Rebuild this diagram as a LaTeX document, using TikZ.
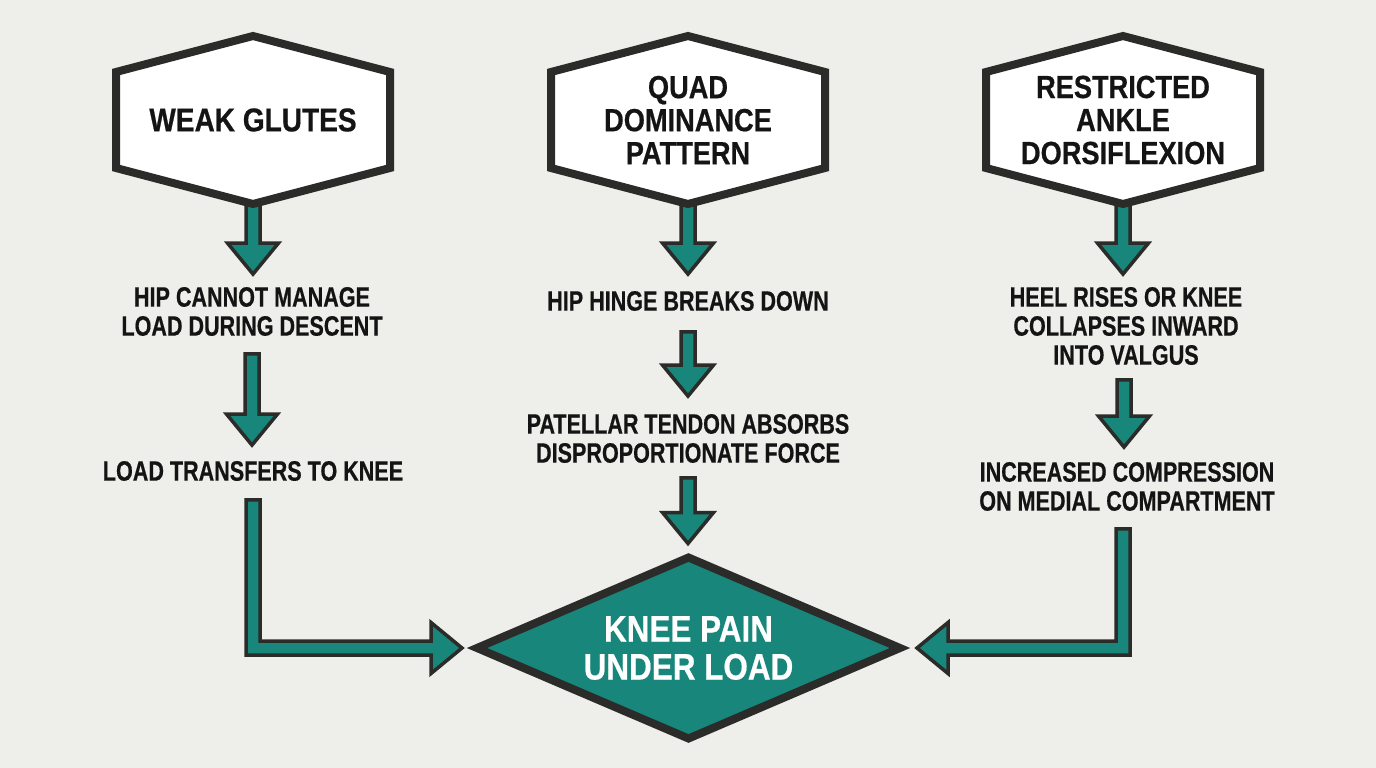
\documentclass[tikz,border=0pt]{standalone}
\usepackage{fontspec}
\setmainfont{Liberation Sans}
\newfontfamily\headfont{Liberation Sans}[FakeStretch=0.85,FakeBold=0.5]
\newfontfamily\bodyfont{Liberation Sans}[FakeStretch=0.77,FakeBold=0.5]
\usetikzlibrary{calc,shapes.geometric}
\definecolor{flowteal}{RGB}{24,134,122}
\definecolor{outl}{HTML}{2B2B29}
\definecolor{bgc}{HTML}{EEEEEA}
\definecolor{ink}{HTML}{141414}
\pgfdeclarelayer{bg}\pgfdeclarelayer{arr}\pgfdeclarelayer{shp}
\pgfsetlayers{bg,arr,shp,main}
\tikzset{
  hexnode/.style={minimum width=274pt, minimum height=96pt, inner sep=0pt, outer sep=0pt,
    align=center, text=ink, font=\headfont\bfseries\fontsize{32pt}{33pt}\selectfont},
  hexshape/.style={draw=outl, fill=white, line width=8pt, line join=miter},
  txt/.style={inner sep=0pt, outer sep=0pt, align=center, text=ink,
    font=\bodyfont\bfseries\fontsize{28pt}{29pt}\selectfont},
  outcome/.style={shape=diamond, aspect=2.34, minimum width=423pt, minimum height=181pt,
    inner sep=0pt, outer sep=0pt, draw=outl, line width=8pt, fill=flowteal, text=white,
    align=center, font=\headfont\bfseries\fontsize{37pt}{38pt}\selectfont},
  blkarrow/.style={draw=outl, fill=flowteal, line width=3.5pt, line join=miter}
}
\newcommand\hexdraw[1]{\begin{pgfonlayer}{shp}\draw[hexshape] (#1.north west) -- ([yshift=36pt]#1.north) -- (#1.north east) -- (#1.south east) -- ([yshift=-36pt]#1.south) -- (#1.south west) -- cycle;\end{pgfonlayer}}
\newcommand\downblk[2]{\begin{pgfonlayer}{arr}\draw[blkarrow] let \p1=(#1), \p2=(#2) in
  (\x1-7pt,\y1) -- (\x1-7pt,\y2+31pt) -- (\x1-25.5pt,\y2+31pt) -- (\x1,\y2) -- (\x1+25.5pt,\y2+31pt) -- (\x1+7pt,\y2+31pt) -- (\x1+7pt,\y1) -- cycle;\end{pgfonlayer}}
\newcommand\elblkR[2]{\begin{pgfonlayer}{arr}\draw[blkarrow] let \p1=(#1), \p2=(#2) in
  (\x1-7pt,\y1) -- (\x1-7pt,\y2-7pt) -- (\x2-31pt,\y2-7pt) -- (\x2-31pt,\y2-25.5pt) -- (\x2,\y2) -- (\x2-31pt,\y2+25.5pt) -- (\x2-31pt,\y2+7pt) -- (\x1+7pt,\y2+7pt) -- (\x1+7pt,\y1) -- cycle;\end{pgfonlayer}}
\newcommand\elblkL[2]{\begin{pgfonlayer}{arr}\draw[blkarrow] let \p1=(#1), \p2=(#2) in
  (\x1+7pt,\y1) -- (\x1+7pt,\y2-7pt) -- (\x2+31pt,\y2-7pt) -- (\x2+31pt,\y2-25.5pt) -- (\x2,\y2) -- (\x2+31pt,\y2+25.5pt) -- (\x2+31pt,\y2+7pt) -- (\x1-7pt,\y2+7pt) -- (\x1-7pt,\y1) -- cycle;\end{pgfonlayer}}
\begin{document}
\begin{tikzpicture}[x=1pt,y=-1pt]
\useasboundingbox (0,0) rectangle (1376,768);
\begin{pgfonlayer}{bg}\fill[bgc] (0,0) rectangle (1376,768);\end{pgfonlayer}
% top causes
\node[hexnode, font=\headfont\bfseries\fontsize{33pt}{34pt}\selectfont] (h1) at (253,120) {WEAK GLUTES};
\node[hexnode] (h2) at (688,120) {QUAD\\DOMINANCE\\PATTERN};
\node[hexnode] (h3) at (1123,120) {RESTRICTED\\ANKLE\\DORSIFLEXION};
\hexdraw{h1}\hexdraw{h2}\hexdraw{h3}
% intermediate texts
\node[txt] (t1a) at (252,311.5) {HIP CANNOT MANAGE\\LOAD DURING DESCENT};
\node[txt] (t1b) at (253,471) {LOAD TRANSFERS TO KNEE};
\node[txt] (t2a) at (688,301) {HIP HINGE BREAKS DOWN};
\node[txt] (t2b) at (688,438.5) {PATELLAR TENDON ABSORBS\\DISPROPORTIONATE FORCE};
\node[txt] (t3a) at (1126,326) {HEEL RISES OR KNEE\\COLLAPSES INWARD\\INTO VALGUS};
\node[txt] (t3b) at (1127,486.5) {INCREASED COMPRESSION\\ON MEDIAL COMPARTMENT};
% outcome
\node[outcome] (kp) at (688.5,648) {KNEE PAIN\\UNDER LOAD};
% connectors
\downblk{h1.south}{[yshift=13pt]t1a.north}
\downblk{[yshift=-18pt]t1a.south}{[yshift=16pt]t1b.north}
\elblkR{[yshift=-19pt]t1b.south}{[xshift=-15pt]kp.west}
\downblk{h2.south}{[yshift=17pt]t2a.north}
\downblk{[yshift=-21pt]t2a.south}{[yshift=18pt]t2b.north}
\downblk{[yshift=-15pt]t2b.south}{[yshift=14pt]kp.north}
\downblk{h3.south}{[yshift=13pt]t3a.north}
\downblk{[xshift=-2pt,yshift=-15pt]t3a.south}{[yshift=15pt]t3b.north}
\elblkL{[xshift=-4pt,yshift=-18pt]t3b.south}{[xshift=17pt]kp.east}
\end{tikzpicture}
\end{document}
